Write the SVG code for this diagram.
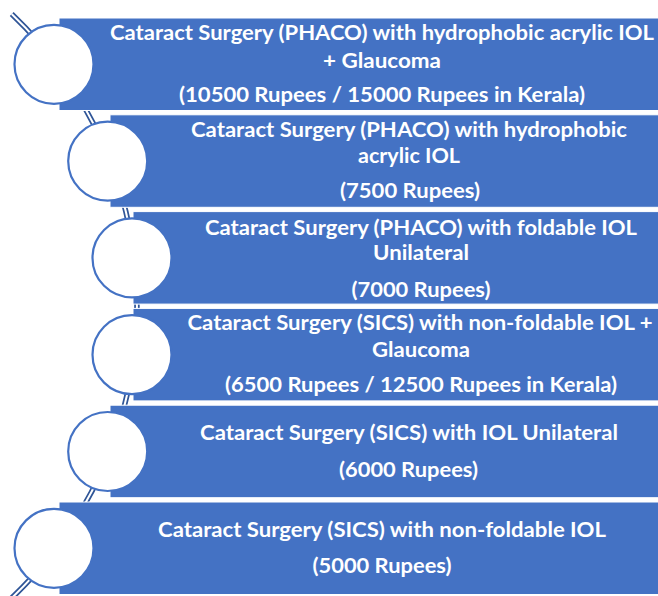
<svg xmlns="http://www.w3.org/2000/svg" width="658" height="596" viewBox="0 0 658 596">
  <style>
    .bar { fill: #4472C4; stroke: #FFFFFF; stroke-width: 1; }
    .dot { fill: #FFFFFF; stroke: #4472C4; stroke-width: 2.2; }
    .lbl { font-family: Lato, "Liberation Sans", sans-serif; font-weight: bold; font-size: 21px; fill: #FFFFFF; text-anchor: middle; }
    .arcOuter { fill: none; stroke: #2F5597; stroke-width: 5.5; }
    .arcInner { fill: none; stroke: #FFFFFF; stroke-width: 2; }
  </style>
  <rect width="658" height="596" fill="#FFFFFF"/>
  <g id="connectors">
    <path class="arcOuter" d="M 11.7 14 A 403 403 0 0 1 11.7 598"/>
    <path class="arcInner" d="M 11.7 14 A 403 403 0 0 1 11.7 598"/>
  </g>
  <g id="node1">
    <rect class="bar" x="59" y="18" width="600" height="92.5"/>
    <circle class="dot" cx="54" cy="64.3" r="39.5"/>
    <text class="lbl" x="382" y="40" textLength="544" lengthAdjust="spacingAndGlyphs">Cataract Surgery (PHACO) with hydrophobic acrylic IOL</text>
    <text class="lbl" x="382" y="68" textLength="118" lengthAdjust="spacingAndGlyphs">+ Glaucoma</text>
    <text class="lbl" x="382" y="102" textLength="406" lengthAdjust="spacingAndGlyphs">(10500 Rupees / 15000 Rupees in Kerala)</text>
  </g>
  <g id="node2">
    <rect class="bar" x="110" y="114.8" width="549" height="92.5"/>
    <circle class="dot" cx="107.7" cy="161.1" r="39.5"/>
    <text class="lbl" x="409" y="137" textLength="436" lengthAdjust="spacingAndGlyphs">Cataract Surgery (PHACO) with hydrophobic</text>
    <text class="lbl" x="409" y="163" textLength="102" lengthAdjust="spacingAndGlyphs">acrylic IOL</text>
    <text class="lbl" x="410" y="198" textLength="140" lengthAdjust="spacingAndGlyphs">(7500 Rupees)</text>
  </g>
  <g id="node3">
    <rect class="bar" x="133" y="211.6" width="526" height="92.5"/>
    <circle class="dot" cx="132" cy="257.9" r="39.5"/>
    <text class="lbl" x="421" y="235" textLength="432" lengthAdjust="spacingAndGlyphs">Cataract Surgery (PHACO) with foldable IOL</text>
    <text class="lbl" x="421" y="260" textLength="96" lengthAdjust="spacingAndGlyphs">Unilateral</text>
    <text class="lbl" x="421" y="297" textLength="139" lengthAdjust="spacingAndGlyphs">(7000 Rupees)</text>
  </g>
  <g id="node4">
    <rect class="bar" x="133" y="308.4" width="526" height="92.5"/>
    <circle class="dot" cx="132" cy="354.7" r="39.5"/>
    <text class="lbl" x="420" y="330" textLength="465" lengthAdjust="spacingAndGlyphs">Cataract Surgery (SICS) with non-foldable IOL +</text>
    <text class="lbl" x="421" y="357" textLength="98" lengthAdjust="spacingAndGlyphs">Glaucoma</text>
    <text class="lbl" x="421" y="392" textLength="392" lengthAdjust="spacingAndGlyphs">(6500 Rupees / 12500 Rupees in Kerala)</text>
  </g>
  <g id="node5">
    <rect class="bar" x="110" y="405.2" width="549" height="92.5"/>
    <circle class="dot" cx="107.7" cy="451.5" r="39.5"/>
    <text class="lbl" x="409" y="440" textLength="418" lengthAdjust="spacingAndGlyphs">Cataract Surgery (SICS) with IOL Unilateral</text>
    <text class="lbl" x="408.5" y="477" textLength="139" lengthAdjust="spacingAndGlyphs">(6000 Rupees)</text>
  </g>
  <g id="node6">
    <rect class="bar" x="59" y="502" width="600" height="92.5"/>
    <circle class="dot" cx="54" cy="548.3" r="39.5"/>
    <text class="lbl" x="382" y="537" textLength="448" lengthAdjust="spacingAndGlyphs">Cataract Surgery (SICS) with non-foldable IOL</text>
    <text class="lbl" x="382" y="573" textLength="139" lengthAdjust="spacingAndGlyphs">(5000 Rupees)</text>
  </g>
</svg>
